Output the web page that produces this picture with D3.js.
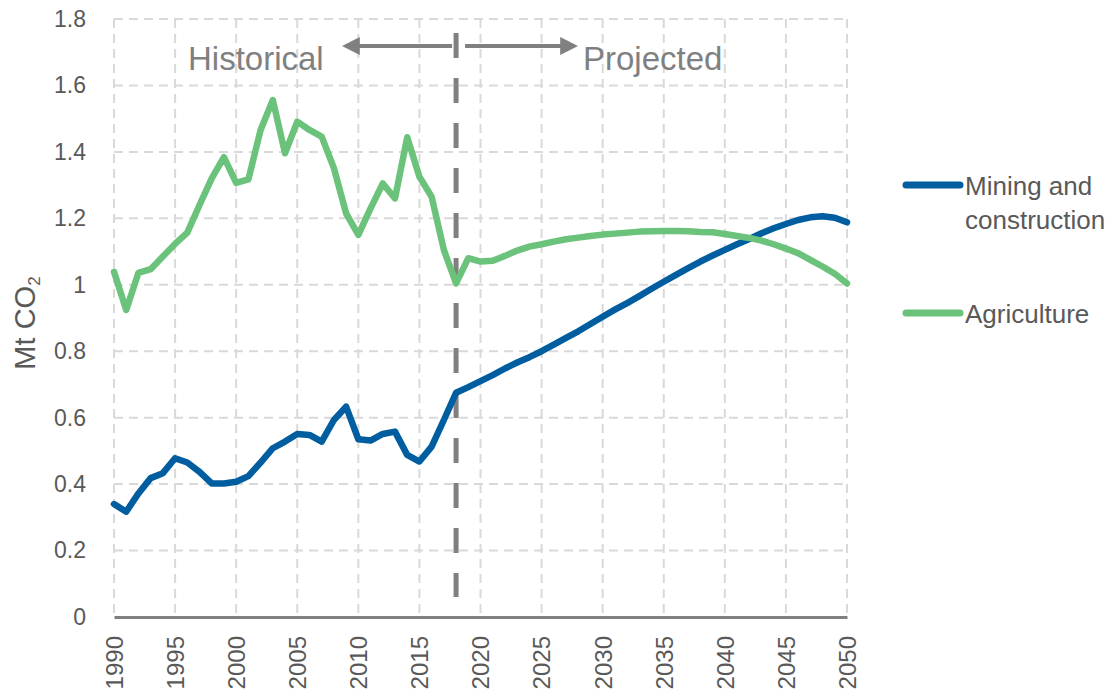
<!DOCTYPE html>
<html><head><meta charset="utf-8">
<script src="https://cdn.jsdelivr.net/npm/d3@7"></script>
<style>body{margin:0;background:#fff;} text{font-family:"Liberation Sans",Arial,sans-serif;}</style>
</head><body><svg id="c" width="1120" height="697"></svg>
<script>
const years = d3.range(1990, 2051);
const yTicks = [0,0.2,0.4,0.6,0.8,1,1.2,1.4,1.6,1.8];
const xTicks = [1990,1995,2000,2005,2010,2015,2020,2025,2030,2035,2040,2045,2050];
const seriesNames = ["Mining and construction","Agriculture"];
const mining = [0.34,0.317,0.372,0.418,0.433,0.478,0.465,0.437,0.402,0.402,
 0.407,0.424,0.465,0.508,0.528,0.551,0.548,0.528,0.593,0.633,
 0.535,0.531,0.551,0.558,0.488,0.468,0.513,0.593,0.675,0.692,
 0.71,0.728,0.748,0.766,0.782,0.8,0.82,0.84,0.86,0.882,
 0.904,0.925,0.945,0.966,0.988,1.009,1.03,1.05,1.07,1.088,
 1.105,1.122,1.138,1.155,1.17,1.183,1.195,1.203,1.206,1.202,1.188];
const agriculture = [1.039,0.924,1.036,1.047,1.085,1.123,1.157,1.24,1.32,1.384,
 1.307,1.317,1.466,1.556,1.396,1.491,1.466,1.446,1.351,1.215,
 1.15,1.23,1.305,1.26,1.444,1.325,1.265,1.105,1.004,1.08,
 1.07,1.072,1.087,1.103,1.115,1.122,1.13,1.137,1.142,1.147,
 1.151,1.154,1.157,1.16,1.161,1.162,1.162,1.161,1.159,1.158,
 1.153,1.147,1.141,1.133,1.122,1.109,1.095,1.075,1.055,1.033,1.004];
const splitYear = 2018;
const colors = ["#005ea0","#6ac27b"];

const svg = d3.select("#c");
const x = d3.scaleLinear().domain([1990,2050]).range([114,847]);
const y = d3.scaleLinear().domain([0,1.8]).range([617,19]);
const grid = "#d9d9d9", txt = "#595959";
const ff = "'Liberation Sans',Arial,sans-serif";

// horizontal grid
svg.append("g").selectAll("line").data(yTicks.filter(d=>d>0)).join("line")
  .attr("x1",x(1990)).attr("x2",x(2050)).attr("y1",d=>y(d)).attr("y2",d=>y(d))
  .attr("stroke",grid).attr("stroke-width",2).attr("stroke-dasharray","9,6");
// vertical grid
svg.append("g").selectAll("line").data(xTicks).join("line")
  .attr("x1",d=>x(d)).attr("x2",d=>x(d)).attr("y1",y(1.8)).attr("y2",y(0))
  .attr("stroke",grid).attr("stroke-width",2).attr("stroke-dasharray","9,6");

// y axis labels
const ya = svg.append("g").attr("transform",`translate(${x(1990)},0)`)
  .call(d3.axisLeft(y).tickValues(yTicks).tickSize(0).tickPadding(28).tickFormat(d3.format("~g")));
ya.select(".domain").remove();
ya.selectAll("text").attr("fill",txt).style("font-size","23px").style("font-family",ff);

// x axis
const xa = svg.append("g").attr("transform",`translate(0,${y(0)})`)
  .call(d3.axisBottom(x).tickValues(xTicks).tickSize(0).tickFormat(d3.format("d")));
xa.select(".domain").attr("stroke","#808080").attr("stroke-width",3);
xa.selectAll("text").attr("fill",txt).style("font-size","24px").style("font-family",ff)
  .attr("transform","rotate(-90)").attr("text-anchor","end").attr("dy","0.35em").attr("x",-19).attr("y",0);

// y title
const yt = svg.append("text").attr("transform","translate(35,323) rotate(-90)")
  .attr("text-anchor","middle").attr("fill",txt).style("font-size","29px");
yt.append("tspan").text("Mt CO");
yt.append("tspan").text("2").style("font-size","17px").attr("dy","5");

// split dashed line
svg.append("line").attr("x1",x(splitYear)).attr("x2",x(splitYear)).attr("y1",33).attr("y2",597)
  .attr("stroke","#808080").attr("stroke-width",5).attr("stroke-dasharray","25,20");

// lines
const line = d3.line().x((d,i)=>x(years[i])).y(d=>y(d));
[mining, agriculture].forEach((s,k)=>{
  svg.append("path").datum(s).attr("d",line).attr("fill","none")
    .attr("stroke",colors[k]).attr("stroke-width",6.5).attr("stroke-linejoin","round").attr("stroke-linecap","round");
});

// annotation arrows
const defs = svg.append("defs");
defs.append("marker").attr("id","ah").attr("viewBox","0 0 10 10").attr("refX",1).attr("refY",5)
  .attr("markerWidth",4.5).attr("markerHeight",4.5).attr("orient","auto-start-reverse")
  .append("path").attr("d","M0,0 L10,5 L0,10 z").attr("fill","#808080");
svg.append("line").attr("x1",x(splitYear)-4).attr("x2",358).attr("y1",46).attr("y2",46)
  .attr("stroke","#808080").attr("stroke-width",4).attr("marker-end","url(#ah)");
svg.append("line").attr("x1",x(splitYear)+9).attr("x2",562).attr("y1",46).attr("y2",46)
  .attr("stroke","#808080").attr("stroke-width",4).attr("marker-end","url(#ah)");
svg.append("text").attr("x",188).attr("y",70).attr("fill","#808080").style("font-size","33px").text("Historical");
svg.append("text").attr("x",583).attr("y",70).attr("fill","#808080").style("font-size","33px").text("Projected");

// legend
const lg = [{name:["Mining and","construction"],y:185},{name:["Agriculture"],y:313}];
lg.forEach((l,k)=>{
  svg.append("line").attr("x1",906).attr("x2",960).attr("y1",l.y).attr("y2",l.y)
    .attr("stroke",colors[k]).attr("stroke-width",7).attr("stroke-linecap","round");
  const t = svg.append("text").attr("x",965).attr("y",l.y+10).attr("fill",txt).style("font-size","26px");
  l.name.forEach((n,i)=>t.append("tspan").attr("x",965).attr("dy",i?34:0).text(n));
});
</script></body></html>
